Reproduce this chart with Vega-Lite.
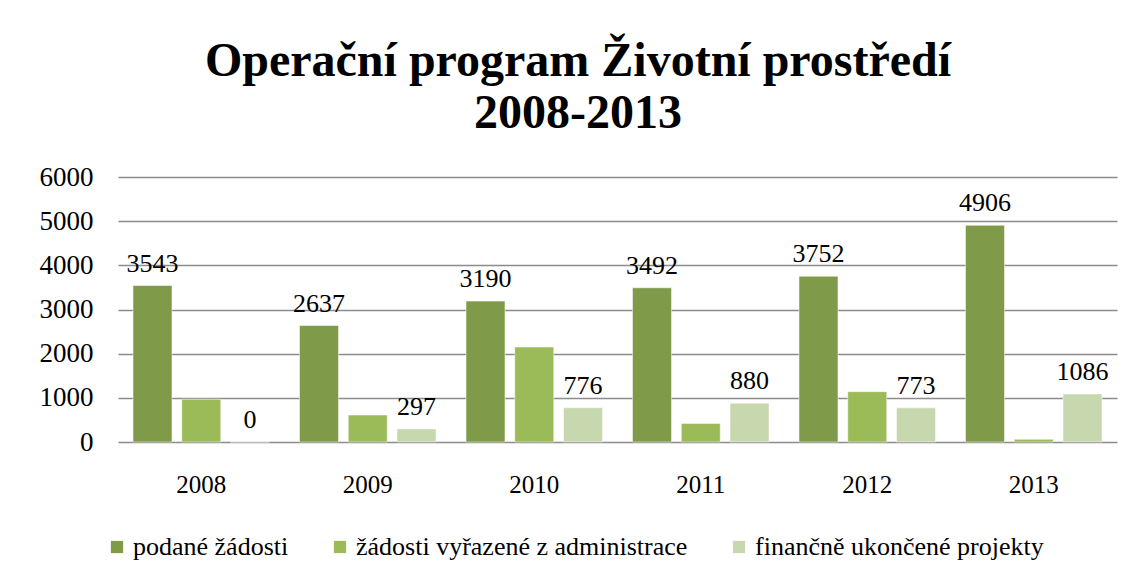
{
  "$schema": "https://vega.github.io/schema/vega-lite/v6.json",
  "width": 999,
  "height": 265,
  "padding": {"left": 39, "top": 38, "right": 20, "bottom": 20},
  "background": "white",
  "title": {
    "text": ["Operační program Životní prostředí", "2008-2013"],
    "font": "Times New Roman",
    "fontSize": 48,
    "fontWeight": "bold",
    "lineHeight": 52,
    "anchor": "middle",
    "frame": "bounds",
    "color": "black",
    "offset": 25
  },
  "data": {
    "values": [
      {"rok": "2008", "serie": "podané žádosti", "hodnota": 3543, "popisek": "3543"},
      {"rok": "2008", "serie": "žádosti vyřazené z administrace", "hodnota": 970, "popisek": ""},
      {"rok": "2008", "serie": "finančně ukončené projekty", "hodnota": 0, "popisek": "0"},
      {"rok": "2009", "serie": "podané žádosti", "hodnota": 2637, "popisek": "2637"},
      {"rok": "2009", "serie": "žádosti vyřazené z administrace", "hodnota": 610, "popisek": ""},
      {"rok": "2009", "serie": "finančně ukončené projekty", "hodnota": 297, "popisek": "297"},
      {"rok": "2010", "serie": "podané žádosti", "hodnota": 3190, "popisek": "3190"},
      {"rok": "2010", "serie": "žádosti vyřazené z administrace", "hodnota": 2150, "popisek": ""},
      {"rok": "2010", "serie": "finančně ukončené projekty", "hodnota": 776, "popisek": "776"},
      {"rok": "2011", "serie": "podané žádosti", "hodnota": 3492, "popisek": "3492"},
      {"rok": "2011", "serie": "žádosti vyřazené z administrace", "hodnota": 420, "popisek": ""},
      {"rok": "2011", "serie": "finančně ukončené projekty", "hodnota": 880, "popisek": "880"},
      {"rok": "2012", "serie": "podané žádosti", "hodnota": 3752, "popisek": "3752"},
      {"rok": "2012", "serie": "žádosti vyřazené z administrace", "hodnota": 1140, "popisek": ""},
      {"rok": "2012", "serie": "finančně ukončené projekty", "hodnota": 773, "popisek": "773"},
      {"rok": "2013", "serie": "podané žádosti", "hodnota": 4906, "popisek": "4906"},
      {"rok": "2013", "serie": "žádosti vyřazené z administrace", "hodnota": 60, "popisek": ""},
      {"rok": "2013", "serie": "finančně ukončené projekty", "hodnota": 1086, "popisek": "1086"}
    ]
  },
  "encoding": {
    "x": {
      "field": "rok",
      "type": "nominal",
      "scale": {"paddingInner": 0.18, "paddingOuter": 0.09},
      "axis": {
        "title": null,
        "labelAngle": 0,
        "domain": false,
        "ticks": false,
        "labelPadding": 30,
        "labelFont": "Times New Roman",
        "labelFontSize": 25,
        "labelColor": "black"
      }
    },
    "xOffset": {
      "field": "serie",
      "type": "nominal",
      "sort": ["podané žádosti", "žádosti vyřazené z administrace", "finančně ukončené projekty"],
      "scale": {"paddingInner": 0.2, "paddingOuter": 0}
    },
    "y": {
      "field": "hodnota",
      "type": "quantitative",
      "scale": {"domain": [0, 6000], "nice": false},
      "axis": {
        "title": null,
        "values": [0, 1000, 2000, 3000, 4000, 5000, 6000],
        "format": "d",
        "domain": false,
        "ticks": false,
        "labelPadding": 25,
        "labelFont": "Times New Roman",
        "labelFontSize": 27,
        "labelColor": "black",
        "grid": true,
        "gridColor": "#8c8c8c",
        "gridWidth": 1.5
      }
    }
  },
  "layer": [
    {
      "mark": {"type": "bar", "stroke": "white", "strokeWidth": 0.5},
      "encoding": {
        "color": {
          "field": "serie",
          "type": "nominal",
          "sort": ["podané žádosti", "žádosti vyřazené z administrace", "finančně ukončené projekty"],
          "scale": {
            "domain": ["podané žádosti", "žádosti vyřazené z administrace", "finančně ukončené projekty"],
            "range": ["#7f9b4a", "#9bbb59", "#c7d7ae"]
          },
          "legend": {
            "title": null,
            "orient": "none",
            "legendX": -14,
            "legendY": 357,
            "direction": "horizontal",
            "symbolType": "square",
            "symbolSize": 150,
            "symbolStrokeWidth": 0,
            "labelFont": "Times New Roman",
            "labelFontSize": 26,
            "labelColor": "black",
            "labelLimit": 0,
            "labelOffset": 3,
            "columnPadding": 38
          }
        }
      }
    },
    {
      "mark": {
        "type": "text",
        "baseline": "bottom",
        "dy": -9,
        "font": "Times New Roman",
        "fontSize": 26,
        "color": "black"
      },
      "encoding": {
        "text": {"field": "popisek"}
      }
    }
  ],
  "config": {
    "font": "Times New Roman",
    "text": {"font": "Times New Roman"},
    "view": {"stroke": null}
  }
}
